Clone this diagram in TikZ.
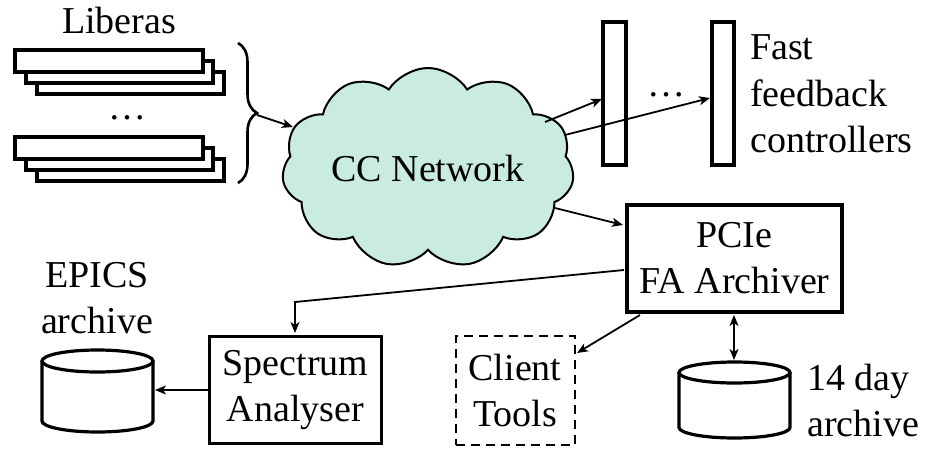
\documentclass[tikz,border=0pt]{standalone}
\usepackage{fontspec}
\setmainfont{Liberation Serif}
\usetikzlibrary{shapes.symbols,arrows.meta,decorations.pathreplacing}
\definecolor{cloudfill}{RGB}{201,235,224}
\begin{document}
\begin{tikzpicture}[x=1pt,y=-1pt,
  every node/.style={font=\fontsize{38}{46}\selectfont, inner sep=0pt},
  lbox/.style={draw, line width=3.2pt, fill=white},
  conn/.style={line width=1.8pt, -{Stealth[length=11pt,width=9pt,inset=3pt]}},
  dconn/.style={line width=1.8pt, {Stealth[length=11pt,width=9pt,inset=3pt]}-{Stealth[length=11pt,width=9pt,inset=3pt]}},
  box/.style={draw, line width=3.4pt, align=center, inner sep=0pt, fill=white},
  cyl/.style={line width=3.2pt, fill=white},
]
\useasboundingbox (0,0) rectangle (927,464);

% Liberas
\node[anchor=base] (lib) at (119,33) {Liberas};
\foreach \dy in {0,87} {
  \draw[lbox] (37,72+\dy) rectangle (224,94+\dy);
  \draw[lbox] (26,61+\dy) rectangle (213,83+\dy);
  \draw[lbox] (15,50+\dy) rectangle (203,72+\dy);
}
\node[anchor=base] (libdots) at (127,119) {\dots};
\draw[line width=2.6pt, decorate, decoration={brace, amplitude=19pt}] (238,43) -- (238,183);
\coordinate (bt) at (257,115);

% cloud
\node[cloud, draw, fill=cloudfill, line width=2pt, cloud puffs=11, cloud puff arc=115,
      cloud ignores aspect, minimum width=292pt, minimum height=200pt] (cc) at (428,168) {CC Network};

% fast feedback controllers
\node[draw, line width=3.2pt, minimum width=23pt, minimum height=143pt] (ffa) at (614.5,93.5) {};
\node[draw, line width=3.2pt, minimum width=22pt, minimum height=143pt] (ffb) at (723,93.5) {};
\node[anchor=base] (ffdots) at (666,96) {\dots};
\node[anchor=west, align=left, font=\fontsize{38}{46.5}\selectfont] (fftext) at (750,94) {Fast\\feedback\\controllers};

% PCIe
\node[box, minimum width=215pt, minimum height=107pt] (pcie) at (734.5,258.5) {PCIe\\FA Archiver};

% Spectrum analyser
\node[box, minimum width=172pt, minimum height=107pt] (spec) at (295.5,390) {Spectrum\\Analyser};

% Client tools
\node[draw, line width=2pt, dash pattern=on 9pt off 6pt, align=center,
      minimum width=119pt, minimum height=109pt] (client) at (515,390) {Client\\Tools};

% EPICS archive
\node[align=center] (epicstext) at (97,298) {EPICS\\archive};
\draw[cyl] (42,361) -- (42,421) arc[start angle=180, end angle=0, x radius=55.5, y radius=11] -- (153,361);
\draw[cyl] (97.5,361) ellipse[x radius=55.5, y radius=11];
\coordinate (epics) at (155,390);

% 14 day archive
\draw[cyl] (679,372.5) -- (679,427.5) arc[start angle=180, end angle=0, x radius=55.5, y radius=10.5] -- (790,372.5);
\draw[cyl] (734.5,372.5) ellipse[x radius=55.5, y radius=10.5];
\coordinate (arch) at (734,360);
\node[anchor=west, align=left] (archtext) at (807,400.5) {14 day\\archive};

% connectors
\coordinate (ccin) at (293,127);
\coordinate (ccA) at (545,122);
\coordinate (ccB) at (565,135);
\coordinate (ccP) at (555,208);
\coordinate (ffaIn) at (602,99);
\coordinate (ffbIn) at (710,98);
\coordinate (pcieIn) at (623,225);
\coordinate (pcieL) at (624,270);
\coordinate (bend) at (295,302);
\coordinate (specTop) at (295,333);
\coordinate (pcieBL) at (640,315);
\coordinate (clientIn) at (577,353);
\coordinate (pcieB) at (734,315);

\draw[conn] (bt) -- (ccin);
\draw[conn] (ccA) -- (ffaIn);
\draw[conn] (ccB) -- (ffbIn);
\draw[conn] (ccP) -- (pcieIn);
\draw[conn] (pcieL) -- (bend) -- (specTop);
\draw[conn] (spec.west) -- (epics);
\draw[conn] (pcieBL) -- (clientIn);
\draw[dconn] (pcieB) -- (arch);
\end{tikzpicture}
\end{document}
